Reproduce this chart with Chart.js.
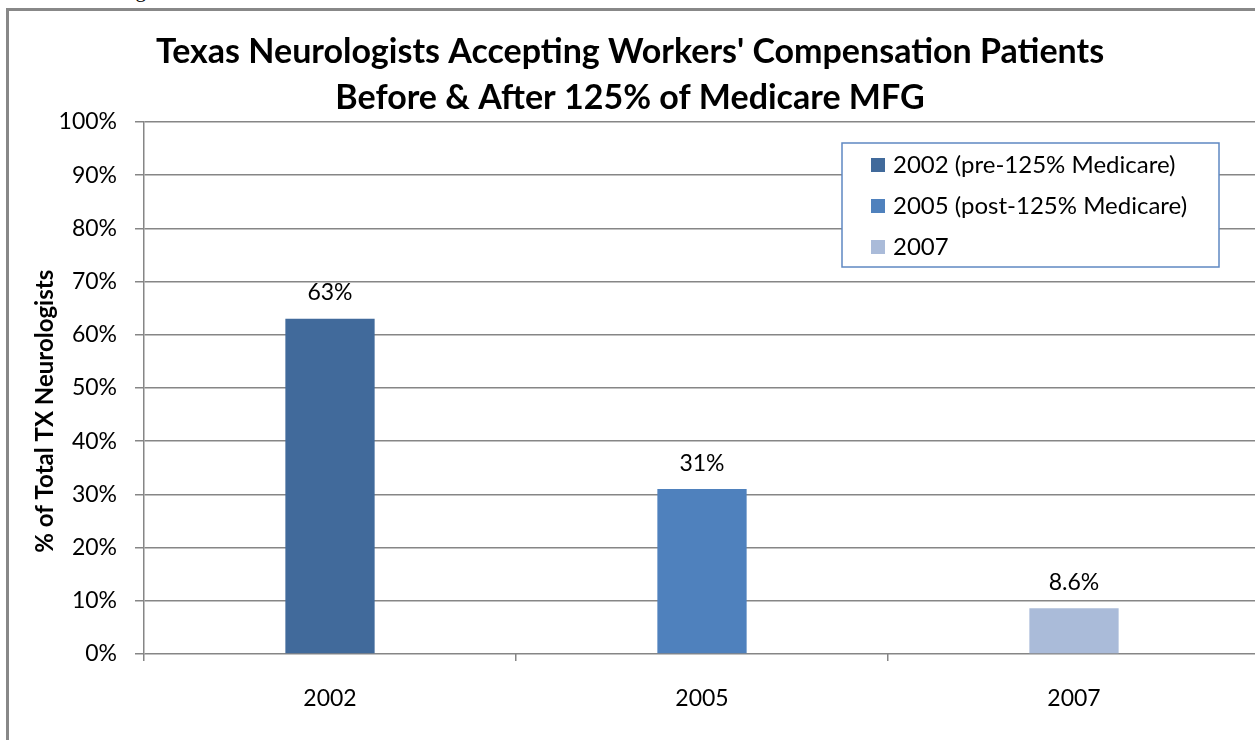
<!DOCTYPE html>
<html>
<head>
<meta charset="utf-8">
<script src="https://cdn.jsdelivr.net/npm/chart.js@4/dist/chart.umd.min.js"></script>
<style>
  html, body { margin: 0; padding: 0; background: #fff; overflow: hidden; }
  body { width: 1255px; height: 740px; position: relative; }
  #caption { position: absolute; left: 118px; top: -22px; font: 21px "Liberation Serif", serif; color: #000; }
  #frame { position: absolute; left: 6px; top: 8px; width: 1300px; height: 800px; border: 3px solid #888; box-sizing: border-box; }
  #wrap { position: absolute; left: 0; top: 0; width: 1270px; height: 740px; }
</style>
</head>
<body>
<div id="caption">Figure 3</div>
<div id="frame"></div>
<div id="wrap"><canvas id="myChart"></canvas></div>
<script>
const years = ['2002', '2005', '2007'];
const pctValues = [63, 31, 8.6];
const valueLabels = ['63%', '31%', '8.6%'];
const legendLabels = ['2002 (pre-125% Medicare)', '2005 (post-125% Medicare)', '2007'];
const barColors = ['#416A9B', '#4F81BD', '#AABBD9'];
const titleLines = ["Texas Neurologists Accepting Workers' Compensation Patients", 'Before & After 125% of Medicare MFG'];
const yAxisTitle = '% of Total TX Neurologists';

const FONT = 'Lato, "Open Sans", sans-serif';

// labels on top of the bars
const valueLabelPlugin = {
  id: 'valueLabels',
  afterDatasetsDraw(chart) {
    const ctx = chart.ctx;
    const meta = chart.getDatasetMeta(0);
    ctx.save();
    ctx.font = '23px ' + FONT;
    ctx.fillStyle = '#000';
    ctx.textAlign = 'center';
    ctx.textBaseline = 'middle';
    meta.data.forEach((bar, i) => {
      ctx.fillText(valueLabels[i], bar.x, bar.y - 26);
    });
    ctx.restore();
  }
};

// boxed legend inside the plot area
const boxLegendPlugin = {
  id: 'boxLegend',
  afterDraw(chart) {
    const ctx = chart.ctx;
    const bx = 842, by = 143, bw = 377, bh = 124;
    ctx.save();
    ctx.fillStyle = '#fff';
    ctx.fillRect(bx, by, bw, bh);
    ctx.strokeStyle = '#5F88C2';
    ctx.lineWidth = 1.5;
    ctx.strokeRect(bx, by, bw, bh);
    ctx.font = '24px ' + FONT;
    ctx.textBaseline = 'middle';
    ctx.textAlign = 'left';
    legendLabels.forEach((txt, i) => {
      const cy = 165 + i * 41;
      ctx.fillStyle = barColors[i];
      ctx.fillRect(871, cy - 7, 14, 14);
      ctx.fillStyle = '#000';
      ctx.fillText(txt, 893, cy);
    });
    ctx.restore();
  }
};

var ctx = document.getElementById('myChart').getContext('2d');
var chart = new Chart(ctx, {
  type: 'bar',
  data: {
    labels: years,
    datasets: [{
      label: '% of Total TX Neurologists',
      data: pctValues,
      backgroundColor: barColors,
      borderWidth: 0,
      barPercentage: 0.24,
      categoryPercentage: 1
    }]
  },
  options: {
    responsive: true,
    maintainAspectRatio: false,
    animation: false,
    layout: { padding: { left: 0, right: 10, top: 0, bottom: 0 } },
    plugins: {
      legend: { display: false },
      tooltip: { enabled: false },
      title: {
        display: true,
        text: titleLines,
        color: '#000',
        font: { family: FONT, size: 34, weight: 'bold', lineHeight: 1.353 },
        padding: { top: 29, bottom: 1 }
      }
    },
    scales: {
      x: {
        grid: {
          display: true,
          drawOnChartArea: false,
          drawTicks: true,
          tickLength: 7,
          color: '#868686',
          lineWidth: 1.5
        },
        border: { display: false },
        ticks: { color: '#000', font: { family: FONT, size: 23 }, padding: 24, maxRotation: 0 },
        afterFit(scale) { scale.height = 86; }
      },
      y: {
        min: 0,
        max: 100,
        ticks: {
          stepSize: 10,
          color: '#000',
          font: { family: FONT, size: 23 },
          padding: 18,
          callback: v => v + '%'
        },
        grid: { color: '#868686', lineWidth: 1.5, tickLength: 9 },
        border: { color: '#868686', width: 1.5 },
        title: {
          display: true,
          // trailing spaces push the title a bit below the axis middle, as in the original
          text: yAxisTitle + '        ',
          color: '#000',
          font: { family: FONT, size: 24, weight: 'bold', lineHeight: 1.2 },
          padding: { top: 31, bottom: 0 }
        },
        afterFit(scale) { scale.width = 144; }
      }
    }
  },
  plugins: [valueLabelPlugin, boxLegendPlugin]
});
</script>
</body>
</html>
